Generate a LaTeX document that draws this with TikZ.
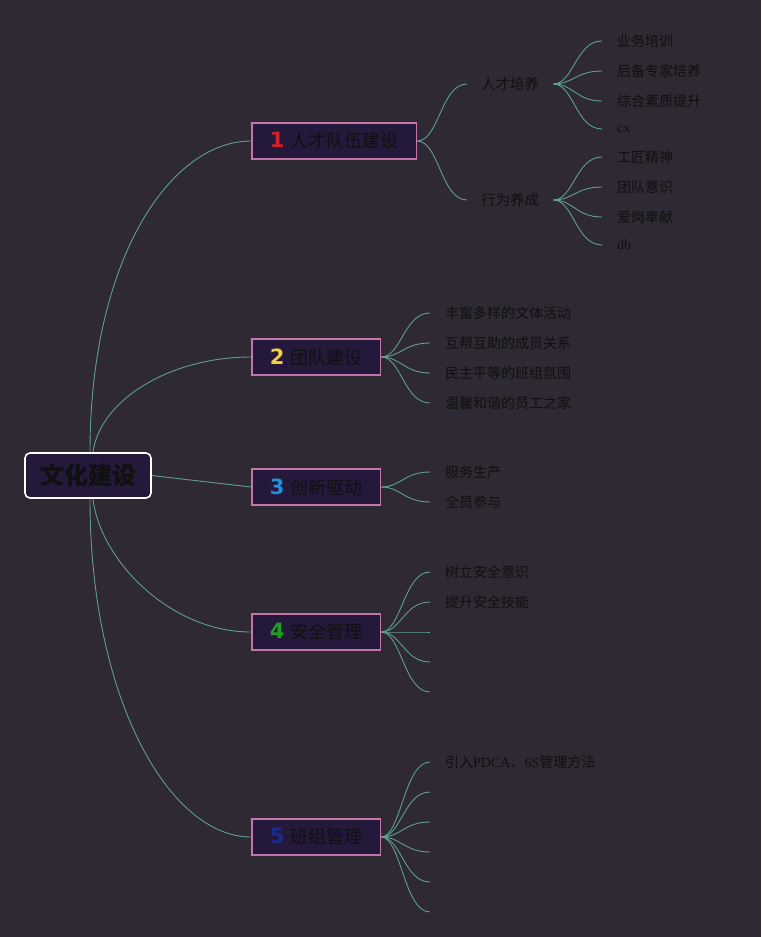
\documentclass[tikz,border=0pt]{standalone}
\usepackage{fontspec}
\setmainfont{Liberation Serif}
\newfontfamily\cjk{Noto Sans CJK SC}
\newfontfamily\numfont{DejaVu Sans}
\usepackage{tikz}

\definecolor{bgcol}{HTML}{2E2932}
\definecolor{linecol}{HTML}{5E9E94}
\definecolor{boxfill}{HTML}{24193A}
\definecolor{boxdraw}{HTML}{C277A8}
\definecolor{textcol}{HTML}{101010}

\newcommand\bignum[2]{{\numfont\bfseries\fontsize{21}{24}\selectfont\color[HTML]{#1}#2}\hspace{6pt}}

\begin{document}
\begin{tikzpicture}[x=1pt,y=-1pt,
  branch/.style={draw=linecol,line width=0.9pt},
  rootbox/.style={draw=white,fill=boxfill,line width=1.6pt,rounded corners=5pt,
    minimum width=126pt,minimum height=45pt,inner sep=0pt,
    font=\cjk\bfseries\fontsize{24}{28}\selectfont,text=textcol},
  mainbox/.style={draw=boxdraw,fill=boxfill,line width=1.5pt,minimum height=36pt,
    inner xsep=18pt,inner ysep=0pt,font=\cjk\fontsize{18}{22}\selectfont,
    text=textcol,anchor=west},
  subtext/.style={inner xsep=14pt,inner ysep=2pt,font=\cjk\fontsize{14.5}{17}\selectfont,
    text=textcol,anchor=west},
  leaf/.style={inner xsep=15pt,inner ysep=2pt,font=\cjk\fontsize{14}{17}\selectfont,
    text=textcol,anchor=west}]

\fill[bgcol] (0,0) rectangle (761,937);
\useasboundingbox (0,0) rectangle (761,937);

% centre and main topics
\node[rootbox] (root) at (88,475.5) {文化建设};
\node[mainbox] (m1) at (251,141) {\bignum{D0202A}{1}人才队伍建设};
\node[mainbox] (m2) at (251,357) {\bignum{F0D040}{2}团队建设};
\node[mainbox] (m3) at (251,487) {\bignum{2090E0}{3}创新驱动};
\node[mainbox] (m4) at (251,632) {\bignum{20A020}{4}安全管理};
\node[mainbox] (m5) at (251,837) {\bignum{1A2A90}{5}班组管理};

\draw[branch] ([xshift=2pt]root.north) .. controls (90,260) and (170,141) .. (m1.west);
\draw[branch] ([xshift=5pt]root.north) .. controls (100,400) and (170,357) .. (m2.west);
\draw[branch] (root.east) -- (m3.west);
\draw[branch] ([xshift=5pt]root.south) .. controls (100,560) and (170,632) .. (m4.west);
\draw[branch] ([xshift=2pt]root.south) .. controls (90,700) and (170,837) .. (m5.west);

% topic 1
\node[subtext] (s1) at (467,84) {人才培养};
\node[subtext] (s2) at (467,200) {行为养成};
\draw[branch] (m1.east) .. controls +(22,0) and +(-26,0) .. (s1.west);
\draw[branch] (m1.east) .. controls +(22,0) and +(-26,0) .. (s2.west);

\node[leaf] (l11) at (602,41) {业务培训};
\node[leaf] (l12) at (602,71) {后备专家培养};
\node[leaf] (l13) at (602,101) {综合素质提升};
\node[leaf] (l14) at (602,129) {\rmfamily cx};
\node[leaf] (l21) at (602,157) {工匠精神};
\node[leaf] (l22) at (602,187) {团队意识};
\node[leaf] (l23) at (602,217) {爱岗奉献};
\node[leaf] (l24) at (602,245) {\rmfamily db};
\foreach \n in {l11,l12,l13,l14}
  \draw[branch] (s1.east) .. controls +(20,0) and +(-26,0) .. (\n.west);
\foreach \n in {l21,l22,l23,l24}
  \draw[branch] (s2.east) .. controls +(20,0) and +(-26,0) .. (\n.west);

% topic 2
\node[leaf] (t21) at (430,313) {丰富多样的文体活动};
\node[leaf] (t22) at (430,343) {互帮互助的成员关系};
\node[leaf] (t23) at (430,373) {民主平等的班组氛围};
\node[leaf] (t24) at (430,403) {温馨和谐的员工之家};
\foreach \n in {t21,t22,t23,t24}
  \draw[branch] (m2.east) .. controls +(20,0) and +(-26,0) .. (\n.west);

% topic 3
\node[leaf] (t31) at (430,472) {服务生产};
\node[leaf] (t32) at (430,502) {全员参与};
\foreach \n in {t31,t32}
  \draw[branch] (m3.east) .. controls +(20,0) and +(-26,0) .. (\n.west);

% topic 4
\node[leaf] (t41) at (430,572) {树立安全意识};
\node[leaf] (t42) at (430,602) {提升安全技能};
\coordinate (t43) at (430,632);
\coordinate (t44) at (430,662);
\coordinate (t45) at (430,692);
\draw[branch] (m4.east) .. controls +(20,0) and +(-26,0) .. (t41.west);
\draw[branch] (m4.east) .. controls +(20,0) and +(-26,0) .. (t42.west);
\foreach \n in {t43,t44,t45}
  \draw[branch] (m4.east) .. controls +(20,0) and +(-26,0) .. (\n);

% topic 5
\node[leaf] (t51) at (430,762) {引入{\rmfamily PDCA}、{\rmfamily 6S}管理方法};
\draw[branch] (m5.east) .. controls +(20,0) and +(-26,0) .. (t51.west);
\foreach \y [count=\i from 2] in {792,822,852,882,912} {
  \coordinate (t5\i) at (430,\y);
  \draw[branch] (m5.east) .. controls +(20,0) and +(-26,0) .. (t5\i);
}

\end{tikzpicture}
\end{document}
